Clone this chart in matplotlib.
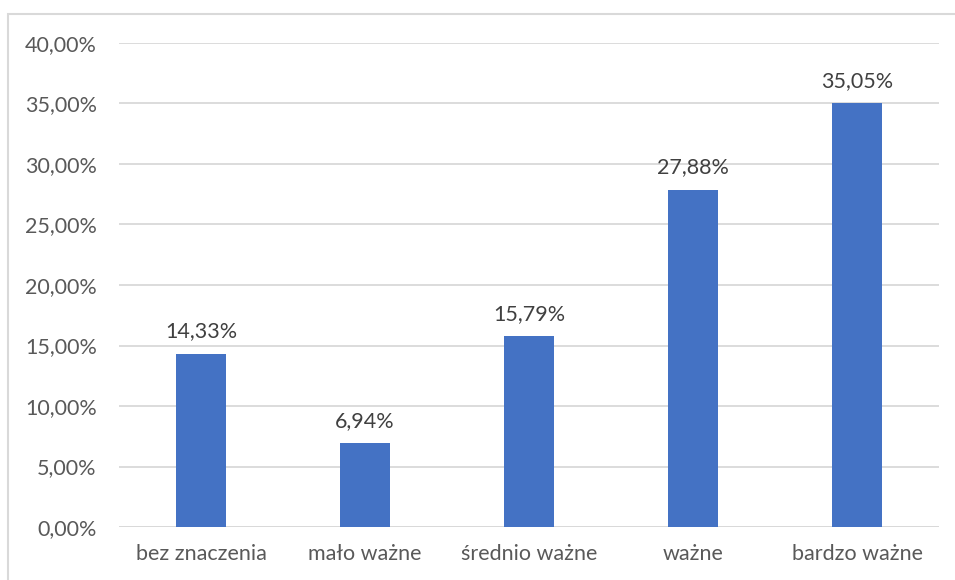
import numpy as np
import matplotlib.pyplot as plt
from matplotlib.patches import Rectangle

kategorie = ['bez znaczenia', 'mało ważne', 'średnio ważne', 'ważne', 'bardzo ważne']
procenty = [14.33, 6.94, 15.79, 27.88, 35.05]
y_ticks = [0, 5, 10, 15, 20, 25, 30, 35, 40]


def fmt(v):
    return f"{v:.2f}".replace('.', ',') + '%'


plt.rcParams['font.family'] = ['Lato', 'DejaVu Sans']

fig = plt.figure(figsize=(9.55, 5.8), dpi=100)
ax = fig.add_axes([119 / 955, 53 / 580, 820 / 955, 484 / 580])

# ramka wykresu
fig.patches.append(Rectangle((8 / 955, -0.05), 1.1, (580 - 13.5) / 580 + 0.05,
                             transform=fig.transFigure, fill=False,
                             edgecolor='#d9d9d9', linewidth=1.5))

x = np.arange(len(kategorie))
ax.bar(x, procenty, width=0.31, color='#4472c4', zorder=3)

for xi, v in zip(x, procenty):
    ax.text(xi, v + 1.0, fmt(v), ha='center', va='bottom', fontsize=15.5,
            color='#404040')

ax.set_xlim(-0.5, len(kategorie) - 0.5)
ax.set_ylim(0, 40)
ax.set_yticks(y_ticks)
ax.set_yticklabels([fmt(t) for t in y_ticks], fontsize=15.5, color='#595959')
ax.set_xticks(x)
ax.set_xticklabels(kategorie, fontsize=15.5, color='#595959')
ax.grid(axis='y', color='#d9d9d9', linewidth=1.3, zorder=0)
ax.tick_params(length=0)
ax.tick_params(axis='y', pad=16)
ax.tick_params(axis='x', pad=12)
for s in ax.spines.values():
    s.set_visible(False)
ax.axhline(0, color='#d9d9d9', linewidth=1.3, zorder=1)

fig.savefig('out.png', dpi=100)
